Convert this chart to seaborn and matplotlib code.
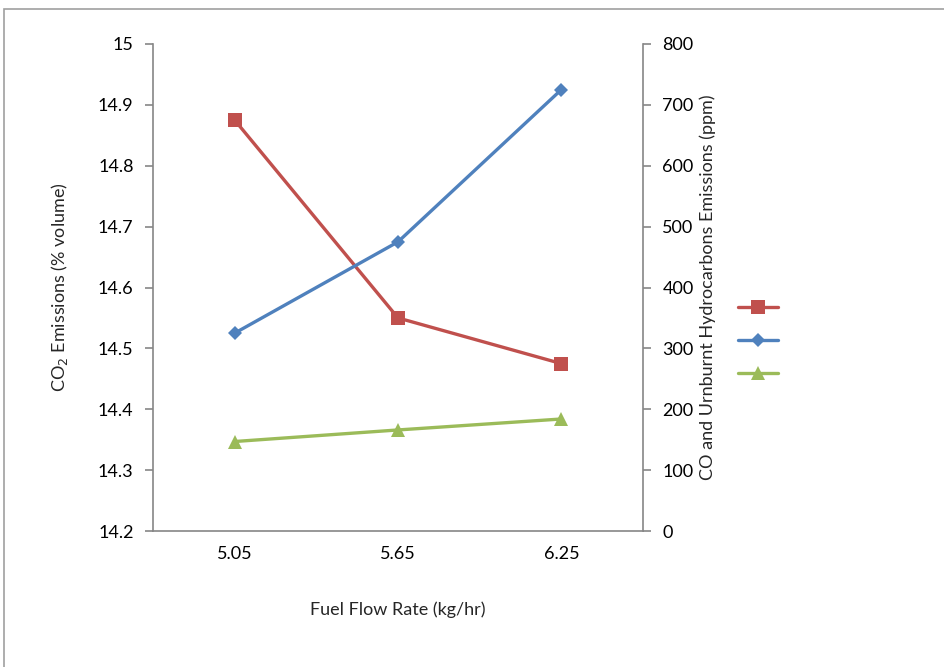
import matplotlib
matplotlib.use("Agg")
import matplotlib.pyplot as plt
import seaborn as sns
import pandas as pd
from matplotlib.patches import Rectangle
from matplotlib.lines import Line2D

sns.set_theme(style="white")
plt.rcParams['font.family'] = ['Lato', 'DejaVu Sans']

fuel_flow = ["5.05", "5.65", "6.25"]
co2 = [14.875, 14.55, 14.475]
co = [325, 475, 725]
hc = [147, 166, 184]

left_ticks = [14.2, 14.3, 14.4, 14.5, 14.6, 14.7, 14.8, 14.9, 15.0]
left_labels = ["14.2", "14.3", "14.4", "14.5", "14.6", "14.7", "14.8", "14.9", "15"]
right_ticks = [0, 100, 200, 300, 400, 500, 600, 700, 800]

red, blue, green = "#C0504D", "#4F81BD", "#9BBB59"
spine_c = "#868686"
fs = 13

fig = plt.figure(figsize=(9.44, 6.67), dpi=100)
ax = fig.add_axes([153/944, 1-531/667, (643-153)/944, (531-44)/667])
ax2 = ax.twinx()

df1 = pd.DataFrame({"x": fuel_flow, "y": co2})
df2 = pd.DataFrame({"x": fuel_flow, "y": co})
df3 = pd.DataFrame({"x": fuel_flow, "y": hc})

sns.lineplot(data=df1, x="x", y="y", ax=ax, color=red, lw=2.4, marker="s",
             markersize=10, markeredgewidth=0, sort=False)
sns.lineplot(data=df2, x="x", y="y", ax=ax2, color=blue, lw=2.4, marker="D",
             markersize=7, markeredgewidth=0, sort=False)
sns.lineplot(data=df3, x="x", y="y", ax=ax2, color=green, lw=2.4, marker="^",
             markersize=10, markeredgewidth=0, sort=False)

ax.set_xlim(-0.5, 2.5)
ax.set_ylim(14.2, 15.0)
ax2.set_ylim(0, 800)
ax.set_yticks(left_ticks)
ax.set_yticklabels(left_labels)
ax2.set_yticks(right_ticks)
ax.set_xticks([0, 1, 2])
ax.set_xticklabels(fuel_flow)
ax.set_xticks([-0.5, 0.5, 1.5, 2.5], minor=True)

for a in (ax, ax2):
    for s in a.spines.values():
        s.set_color(spine_c)
        s.set_linewidth(1.2)
    a.spines['top'].set_visible(False)
    a.tick_params(axis='y', colors=spine_c, labelcolor='black', labelsize=fs,
                  length=6, width=1.2, direction='out')
    a.grid(False)
    a.set_facecolor('none')
ax.spines['right'].set_visible(False)
ax2.spines['left'].set_visible(False)
ax2.spines['bottom'].set_visible(False)
ax.tick_params(axis='x', which='major', length=0, labelsize=fs, pad=11, labelcolor='black')
ax.tick_params(axis='x', which='minor', length=6, width=1.2, color=spine_c, direction='out')
ax.tick_params(axis='y', left=True, pad=8)
ax2.tick_params(axis='y', right=True, pad=8)

ax.set_xlabel("Fuel Flow Rate (kg/hr)", fontsize=fs, labelpad=28)
ax.set_ylabel("CO$_2$ Emissions (% volume)", fontsize=fs, labelpad=20)
ax2.set_ylabel("CO and Urnburnt Hydrocarbons Emissions (ppm)", fontsize=fs, labelpad=4)

handles = [
    Line2D([], [], color=red, lw=2.4, marker="s", markersize=10, markeredgewidth=0),
    Line2D([], [], color=blue, lw=2.4, marker="D", markersize=7, markeredgewidth=0),
    Line2D([], [], color=green, lw=2.4, marker="^", markersize=10, markeredgewidth=0),
]
fig.legend(handles, [" ", " ", " "], loc="center left",
           bbox_to_anchor=(722/944, 1-341/667), frameon=False,
           handlelength=2.2, labelspacing=0.95, fontsize=fs)

fig.add_artist(Rectangle((4/944, -0.1), 1.2, 1-9/667+0.1, transform=fig.transFigure,
                         fill=False, edgecolor="#A0A0A0", lw=1.2, clip_on=False))

fig.savefig("out.png", dpi=100)
